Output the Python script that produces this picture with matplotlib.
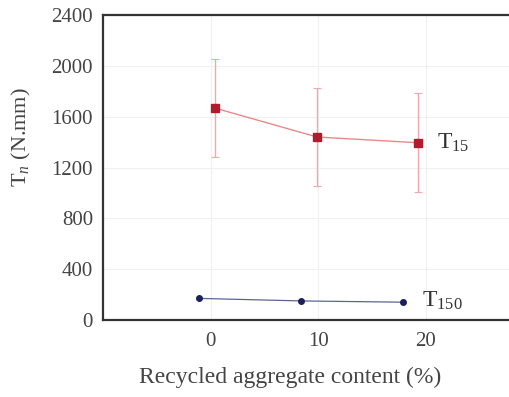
import matplotlib.pyplot as plt
import numpy as np

plt.rcParams['font.family'] = ['Liberation Serif', 'DejaVu Serif']
plt.rcParams['mathtext.fontset'] = 'custom'
plt.rcParams['mathtext.rm'] = 'Liberation Serif'
plt.rcParams['mathtext.it'] = 'Liberation Serif:italic'

# T15 series (red)
x15 = [0.4, 9.9, 19.3]
t15 = [1668, 1440, 1395]
t15_err = [385, 385, 390]

# T150 series (blue)
x150 = [-1.1, 8.4, 17.9]
t150 = [170, 150, 140]

xticks = [0, 10, 20]
yticks = [0, 400, 800, 1200, 1600, 2000, 2400]

fig = plt.figure(figsize=(5.09, 3.97), dpi=100)
ax = fig.add_axes([0.202, 0.194, 0.80, 0.768])

ax.grid(True, color='#f0f0f0', lw=0.8)
ax.set_axisbelow(True)

ax.errorbar(x15, t15, yerr=t15_err, fmt='none', ecolor='#eeaaaa', elinewidth=1,
            capsize=3, capthick=0.8, zorder=2)
ax.plot(x15, t15, color='#e88a8a', lw=1, zorder=3)
ax.plot(x15, t15, 's', color='#b01c2c', ms=6, zorder=4)

ax.plot(x150, t150, color='#5a6690', lw=0.9, zorder=3)
ax.plot(x150, t150, 'o', color='#1c1f5a', ms=4, zorder=4)

ax.text(21.0, 1395, r'T$_{\mathrm{15}}$', fontsize=17, va='center', ha='left', color='#333333')
ax.text(19.6, 150, r'T$_{\mathrm{150}}$', fontsize=17, va='center', ha='left', color='#333333')

ax.set_xlim(-10, 27.8)
ax.set_ylim(0, 2400)
ax.set_xticks(xticks)
ax.set_yticks(yticks)
ax.tick_params(labelsize=15, length=0, colors='#444444', pad=9)
ax.tick_params(axis='y', pad=7)

for s in ['left', 'bottom', 'top']:
    ax.spines[s].set_color('#333333')
    ax.spines[s].set_linewidth(1.6)
ax.spines['right'].set_visible(False)

ax.set_xlabel('Recycled aggregate content (%)', fontsize=17, color='#444444')
ax.set_ylabel(r'T$_{n}$ (N.mm)', fontsize=16, color='#444444')
ax.xaxis.set_label_coords(0.46, -0.155)
ax.yaxis.set_label_coords(-0.172, 0.6)

fig.savefig('out.png', dpi=100)
